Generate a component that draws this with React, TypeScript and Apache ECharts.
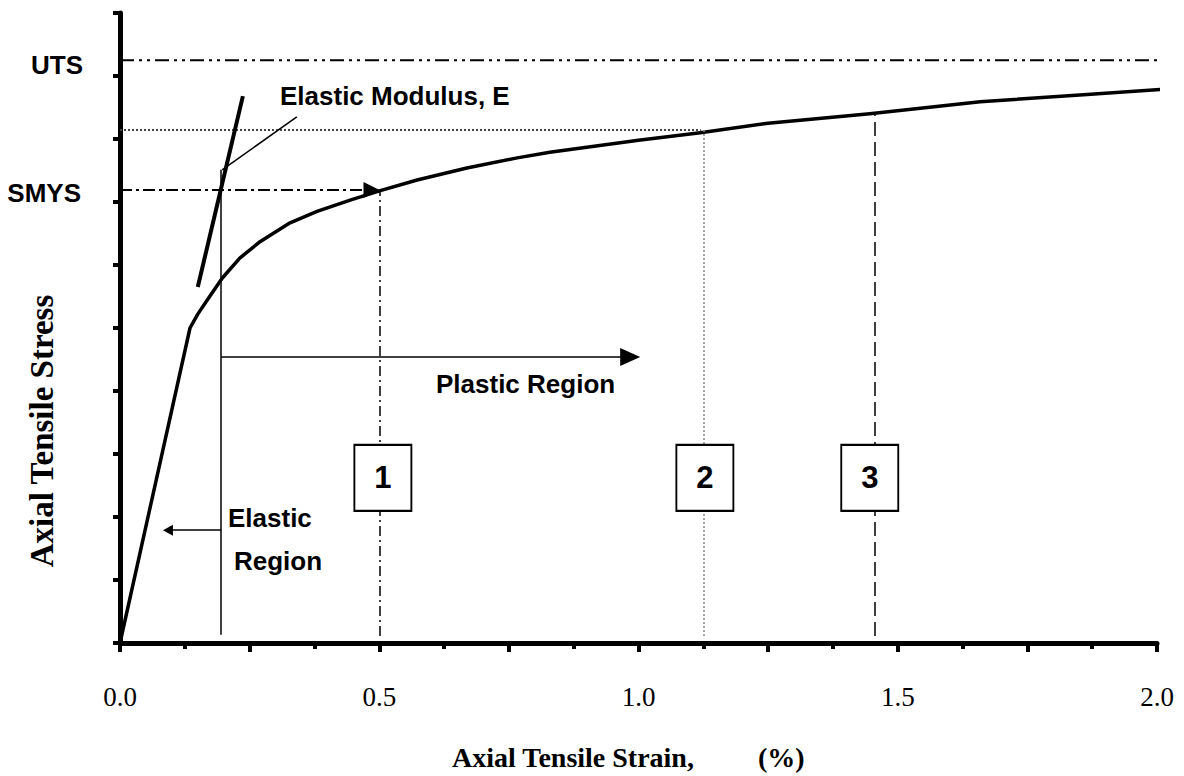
import React, { useEffect, useRef } from "react";
import * as echarts from "echarts";

// Stress-strain curve (strain %, stress in units of the y ticks)
const strain = [0, 0.135, 0.15, 0.168, 0.197, 0.231, 0.27, 0.328, 0.38, 0.444, 0.502, 0.573, 0.669, 0.766, 0.829, 1.0, 1.119, 1.25, 1.446, 1.659, 1.851, 2.047];
const stress = [0, 5.0, 5.22, 5.44, 5.79, 6.11, 6.37, 6.67, 6.85, 7.03, 7.18, 7.35, 7.54, 7.7, 7.79, 7.98, 8.1, 8.25, 8.4, 8.59, 8.7, 8.81];

// Axis ranges / ticks
const xMin = 0, xMax = 2, xInterval = 0.25, xLabelStep = 0.5;
const yMin = 0, yMax = 10, yInterval = 1;
const utsEnd = 2.05;

// Reference levels
const UTS = 9.25;
const SMYS = 7.19;
const LEVEL2 = 8.14;
const lineBottom = 0.11;

// Marker verticals 1, 2, 3
const markerStrain = [0.5, 1.125, 1.456];
const markerTop = [SMYS, LEVEL2, 8.38];
const boxLabels = ["1", "2", "3"];
const boxStrain = [0.507, 1.128, 1.446];
const boxStress = [2.62, 2.62, 2.62];

// Elastic modulus tangent and leader
const modulusLine = [[0.15, 5.65], [0.237, 8.68]];
const leaderLine = [[0.197, 7.51], [0.341, 8.35]];

// Region arrows
const yieldStrain = 0.195;
const yieldTop = 7.51;
const plasticArrowY = 4.54;
const plasticArrowEnd = 0.984;
const elasticArrowY = 1.79;
const elasticArrowEnd = 0.0925;
const smysArrowEnd = 0.485;

const SANS = '"Liberation Sans", Arial, sans-serif';
const SERIF = '"Liberation Serif", "Times New Roman", serif';

export default function App() {
  const ref = useRef<HTMLDivElement>(null);
  useEffect(() => {
    document.body.style.margin = "0";
    const chart = echarts.init(ref.current!, null, { renderer: "svg" });
    const seg = (a: number[], b: number[], lineStyle: any, endSymbol = "none", endSize: any = 0) => [
      { coord: a, symbol: "none", lineStyle },
      { coord: b, symbol: endSymbol, symbolSize: endSize },
    ];
    const markData: any[] = [
      seg([xMin, SMYS], [smysArrowEnd, SMYS], { color: "#000", width: 2, type: [12, 4, 3, 4] }, "triangle", [16, 16]),
      seg([xMin, LEVEL2], [1.12, LEVEL2], { color: "#444", width: 2, type: [2, 2] }),
      seg([markerStrain[0], lineBottom], [markerStrain[0], markerTop[0]], { color: "#000", width: 1.5, type: [10, 4, 2, 4] }),
      seg([markerStrain[1], lineBottom], [markerStrain[1], markerTop[1]], { color: "#888", width: 1.5, type: [2, 2] }),
      seg([markerStrain[2], lineBottom], [markerStrain[2], markerTop[2]], { color: "#000", width: 1.5, type: [14, 6] }),
      seg([yieldStrain, 0.13], [yieldStrain, yieldTop], { color: "#000", width: 1.5, type: "solid" }),
      seg([yieldStrain, plasticArrowY], [plasticArrowEnd, plasticArrowY], { color: "#000", width: 1.5, type: "solid" }, "triangle", [18, 20]),
      seg([yieldStrain, elasticArrowY], [elasticArrowEnd, elasticArrowY], { color: "#000", width: 1.5, type: "solid" }, "triangle", [11, 10]),
      seg(modulusLine[0], modulusLine[1], { color: "#000", width: 4, type: "solid" }),
      seg(leaderLine[0], leaderLine[1], { color: "#000", width: 1.5, type: "solid" }),
    ];

    chart.setOption({
      animation: false,
      grid: { left: 120, right: 27, top: 13, bottom: 133, containLabel: false },
      xAxis: {
        type: "value",
        min: xMin,
        max: xMax,
        interval: xInterval,
        axisLine: { lineStyle: { color: "#000", width: 5 } },
        axisTick: { length: 9, lineStyle: { color: "#000", width: 4 } },
        minorTick: { show: true, splitNumber: 2, length: 6, lineStyle: { color: "#000", width: 4 } },
        splitLine: { show: false },
        axisLabel: {
          margin: 40,
          color: "#000",
          fontFamily: SERIF,
          fontSize: 27,
          formatter: (v: number) => (Math.abs(v / xLabelStep - Math.round(v / xLabelStep)) < 1e-6 ? v.toFixed(1) : ""),
        },
      },
      yAxis: {
        type: "value",
        min: yMin,
        max: yMax,
        interval: yInterval,
        axisLine: { show: true, lineStyle: { color: "#000", width: 5 } },
        axisTick: { show: true, length: 7, lineStyle: { color: "#000", width: 4 } },
        splitLine: { show: false },
        axisLabel: { show: false },
      },
      series: [
        {
          type: "line",
          data: [[xMin, UTS], [utsEnd, UTS]],
          symbol: "none",
          clip: false,
          lineStyle: { color: "#000", width: 2, type: [14, 5, 3, 5, 3, 5] },
          silent: true,
          z: 1,
          markLine: { silent: true, animation: false, label: { show: false }, symbol: ["none", "none"], data: markData },
        },
        {
          type: "line",
          data: strain.map((s, i) => [s, stress[i]]),
          symbol: "none",
          smooth: false,
          clip: false,
          lineStyle: { color: "#000", width: 3.5, join: "round" },
          silent: true,
          z: 3,
        },
        {
          type: "scatter",
          data: boxStrain.map((s, i) => ({ value: [s, boxStress[i]], name: boxLabels[i] })),
          symbol: "rect",
          symbolSize: [57, 66],
          itemStyle: { color: "#fff", borderColor: "#000", borderWidth: 2, opacity: 1 },
          label: {
            show: true,
            position: "inside",
            formatter: (p: any) => p.name,
            color: "#000",
            fontFamily: SANS,
            fontWeight: "bold",
            fontSize: 31,
          },
          silent: true,
          z: 5,
        },
      ],
      graphic: [
        { type: "text", x: 83, y: 65, style: { text: "UTS", fill: "#000", font: `bold 26px ${SANS}`, textAlign: "right", textVerticalAlign: "middle" } },
        { type: "text", x: 81, y: 193, style: { text: "SMYS", fill: "#000", font: `bold 26px ${SANS}`, textAlign: "right", textVerticalAlign: "middle" } },
        { type: "text", x: 280, y: 96, style: { text: "Elastic Modulus, E", fill: "#000", font: `bold 26px ${SANS}`, textAlign: "left", textVerticalAlign: "middle" } },
        { type: "text", x: 436, y: 384, style: { text: "Plastic Region", fill: "#000", font: `bold 26px ${SANS}`, textAlign: "left", textVerticalAlign: "middle" } },
        { type: "text", x: 228, y: 518, style: { text: "Elastic", fill: "#000", font: `bold 26px ${SANS}`, textAlign: "left", textVerticalAlign: "middle" } },
        { type: "text", x: 234, y: 561, style: { text: "Region", fill: "#000", font: `bold 26px ${SANS}`, textAlign: "left", textVerticalAlign: "middle" } },
        { type: "text", x: 42, y: 431, rotation: Math.PI / 2, style: { text: "Axial Tensile Stress", fill: "#000", font: `bold 33px ${SERIF}`, textAlign: "center", textVerticalAlign: "middle" } },
        { type: "text", x: 452, y: 757, style: { text: "Axial Tensile Strain,", fill: "#000", font: `bold 28px ${SERIF}`, textAlign: "left", textVerticalAlign: "middle" } },
        { type: "text", x: 758, y: 757, style: { text: "(%)", fill: "#000", font: `bold 28px ${SERIF}`, textAlign: "left", textVerticalAlign: "middle" } },
      ],
    });
    return () => chart.dispose();
  }, []);
  return <div ref={ref} style={{ width: 1184, height: 776 }} />;
}
